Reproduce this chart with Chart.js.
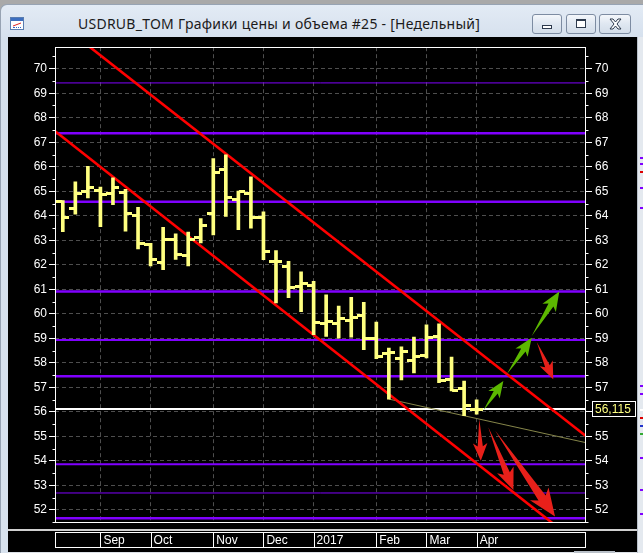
<!DOCTYPE html>
<html><head><meta charset="utf-8">
<script src="https://cdn.jsdelivr.net/npm/chart.js@4.4.1/dist/chart.umd.min.js"></script>
<style>
html,body{margin:0;padding:0;width:643px;height:553px;overflow:hidden;background:#a9a9a9;position:relative;}
#frame{position:absolute;left:0;top:4px;width:660px;height:560px;box-sizing:border-box;background:linear-gradient(#e3ebf5,#d5e0ed 34px,#d8e2ee);border-top:1px solid #97a3b3;border-left:1px solid #97a3b3;border-top-left-radius:7px;}
#icon{position:absolute;left:10px;top:17px;width:14px;height:13px;background:#fff;border:1px solid #5a7db0;box-sizing:border-box;}
#icon .bar{position:absolute;left:0;top:0;width:12px;height:3px;background:#3d6fc0;}
#icon .ln{position:absolute;left:2px;top:6px;width:8px;height:1px;background:#d22;transform:skewY(-20deg);}
#icon .b2{position:absolute;left:2px;top:9px;width:8px;height:1px;border-top:1px dotted #36c;}
#title{position:absolute;left:78px;top:14px;line-height:22px;font:14px 'Noto Sans',sans-serif;letter-spacing:0.25px;color:#1b1b1b;white-space:nowrap;}
.btn{position:absolute;top:14px;height:20px;box-sizing:border-box;border:1px solid #7d8ca2;border-radius:3px;background:linear-gradient(#f4f7fb,#dfe7f1 50%,#d3dde9);}
.btn .ico{position:absolute;box-sizing:border-box;}
#chartwrap{position:absolute;left:8px;top:37px;width:629px;height:515px;background:#000;}
#rstrip{position:absolute;left:637px;top:37px;width:6px;height:516px;background:#e4e9ef;border-left:1px solid #b8c0ca;box-sizing:border-box;}
.mk{position:absolute;left:2px;width:4px;height:2px;}
#bottom{position:absolute;left:8px;top:552px;width:629px;height:1px;background:#dde2e8;}
#thumb{position:absolute;left:574px;top:551px;width:41px;height:2px;background:#b9c0c8;}
</style></head>
<body>
<div id="frame"></div>
<div id="icon"><div class="bar"></div><div class="ln"></div><div class="b2"></div></div>
<div id="title">USDRUB_TOM Графики цены и объема #25 - [Недельный]</div>
<div class="btn" style="left:532px;width:30px;"><div class="ico" style="left:9px;top:10px;width:10px;height:4px;border:1px solid #2d3a4d;background:#fff;"></div></div>
<div class="btn" style="left:566px;width:30px;"><div class="ico" style="left:9px;top:4px;width:10px;height:9px;border:1px solid #2d3a4d;border-top-width:2px;background:#fff;"></div></div>
<div class="btn" style="left:599px;width:32px;"><svg class="ico" style="left:9px;top:3px;" width="13" height="12" viewBox="0 0 13 12"><path d="M1 1 L4 1 L6.5 4 L9 1 L12 1 L8 6 L12 11 L9 11 L6.5 8 L4 11 L1 11 L5 6 Z" fill="#fff" stroke="#2d3a4d" stroke-width="1"/></svg></div>
<div id="chartwrap"><canvas id="c" width="629" height="515"></canvas></div>
<div id="rstrip">
  <div class="mk" style="top:120px;background:#8000ff"></div>
  <div class="mk" style="top:126px;background:#8000ff"></div>
  <div class="mk" style="top:134px;background:#d00"></div>
  <div class="mk" style="top:150px;background:#8000ff"></div>
  <div class="mk" style="top:170px;background:#8000ff"></div>
  <div class="mk" style="top:348px;background:#8000ff"></div>
  <div class="mk" style="top:356px;background:#8000ff"></div>
  <div class="mk" style="top:372px;background:#fff"></div>
  <div class="mk" style="top:380px;background:#d00"></div>
  <div class="mk" style="top:388px;background:#23c"></div>
  <div class="mk" style="top:396px;background:#3a3"></div>
  <div class="mk" style="top:420px;background:#8000ff"></div>
  <div class="mk" style="top:452px;background:#8000ff"></div>
  <div class="mk" style="top:476px;background:#8000ff"></div>
</div>
<div id="bottom"></div>
<div id="thumb"></div>
<script>
// ---------------- data ----------------
const weeks = ['2016-08-15','2016-08-22','2016-08-29','2016-09-05','2016-09-12','2016-09-19','2016-09-26',
  '2016-10-03','2016-10-10','2016-10-17','2016-10-24','2016-10-31','2016-11-07','2016-11-14','2016-11-21',
  '2016-11-28','2016-12-05','2016-12-12','2016-12-19','2016-12-26','2017-01-02','2017-01-09','2017-01-16',
  '2017-01-23','2017-01-30','2017-02-06','2017-02-13','2017-02-20','2017-02-27','2017-03-06','2017-03-13',
  '2017-03-20','2017-03-27','2017-04-03'];
const opens  = [64.57,64.30,65.01,65.04,64.92,64.94,64.03,62.83,62.11,63.03,62.38,63.11,64.09,65.89,64.65,64.90,63.92,62.15,61.95,61.12,61.17,59.62,59.62,59.71,59.93,59.01,58.40,58.17,58.09,58.31,59.08,57.33,56.96,56.08];
const highs  = [64.62,65.38,66.02,65.17,65.55,65.08,64.34,62.88,63.53,63.26,63.33,63.89,66.33,66.49,65.01,65.59,64.16,62.58,62.14,61.71,61.33,60.77,60.32,60.67,60.47,59.66,58.60,58.65,59.05,59.55,59.59,58.23,57.26,56.49];
const lows   = [63.35,64.07,64.73,63.56,64.45,63.37,62.65,61.95,61.80,62.22,61.95,62.89,63.22,63.97,63.43,63.49,62.21,60.44,60.66,60.09,59.15,59.08,59.01,59.05,58.54,58.17,56.52,57.30,57.59,58.20,57.19,56.85,55.84,55.91];
const closes = [63.92,64.90,65.17,64.87,65.15,64.09,62.85,62.22,63.03,62.41,63.03,63.61,65.75,64.74,64.98,63.92,62.55,62.15,61.06,61.25,59.64,59.68,59.82,59.86,59.01,58.24,58.42,58.47,58.27,59.04,57.26,56.89,56.25,56.115];
const monthTicks  = [3,7,12,16,20,25,29,33];
const monthLabels = ['Sep','Oct','Nov','Dec','2017','Feb','Mar','Apr'];
const yTicks = [52,53,54,55,56,57,58,59,60,61,62,63,64,65,66,67,68,69,70];
const levels = [69.42,67.37,64.57,60.91,58.93,57.45,53.86,52.69,51.66];
const lastPrice = 56.115;
const lastPriceLabel = '56,115';
const channelUpper = [[-1,72.15],[42,54.90]];
const channelLower = [[-1,67.61],[42,50.27]];
const trendLine    = [[26,56.52],[42,54.71]];
const arrowsUp   = [[33.53,56.05,35.13,57.26],[35.40,57.53,37.39,59.02],[37.39,59.09,39.59,60.91]];
const arrowsDown = [[37.79,58.85,39.11,57.33],[33.21,55.71,33.33,54.00],[33.93,55.37,35.93,52.81],[34.47,55.24,39.25,51.73]];

// ---------------- styles ----------------
const X_MIN = -0.622, X_MAX = 41.72, Y_MIN = 51.465, Y_MAX = 70.878;
const BAR = '#ffff80', PURPLE = '#8000ff';
const levelWidths = [1,2.5,2.5,2.5,2,2.5,2,1,2.5];
const AXFONT = {family:"'Liberation Sans Narrow','Arial Narrow','Liberation Sans',sans-serif", size:12};

function tickImage(side){
  const c = document.createElement('canvas');
  c.width = 13; c.height = 3;
  const g = c.getContext('2d');
  g.fillStyle = BAR;
  if (side === 'left') g.fillRect(0,0,6,3); else g.fillRect(7,0,6,3);
  return c;
}
const pts = arr => arr.map(p => ({x:p[0], y:p[1]}));
const lineDs = (data, color, width, order) => ({type:'line', data, borderColor:color, borderWidth:width,
  pointRadius:0, tension:0, clip:0, order, fill:false});

const datasets = [];
datasets.push({type:'scatter', data: weeks.map((w,i)=>({x:i,y:opens[i]})), pointStyle: tickImage('left'), pointRadius:3, order:0});
datasets.push({type:'scatter', data: weeks.map((w,i)=>({x:i,y:closes[i]})), pointStyle: tickImage('right'), pointRadius:3, order:0});
datasets.push({type:'bar', data: weeks.map((w,i)=>({x:i,y:[lows[i],highs[i]]})), backgroundColor:BAR, borderWidth:0,
  barThickness:3, grouped:false, order:1});
datasets.push(lineDs(pts(channelUpper), '#ff0000', 2.6, 2));
datasets.push(lineDs(pts(channelLower), '#ff0000', 2.6, 2));
datasets.push(lineDs(pts(trendLine), '#86864a', 1, 3));
datasets.push(lineDs([{x:X_MIN-1,y:lastPrice},{x:X_MAX+1,y:lastPrice}], '#ffffff', 2, 4));
levels.forEach((v,k)=>datasets.push(lineDs([{x:X_MIN-1,y:v},{x:X_MAX+1,y:v}], PURPLE, levelWidths[k], 5)));

function drawArrow(ctx, x0, y0, x1, y1, color){
  const dx = x1-x0, dy = y1-y0, L = Math.hypot(dx,dy);
  const ux = dx/L, uy = dy/L, nx = -uy, ny = ux;
  const hl = Math.min(23, 9 + 0.13*L), hw = hl*0.5, sw = 1.4 + 0.028*L, notch = hl*0.22;
  const bx = x1 - ux*hl, by = y1 - uy*hl;
  ctx.save();
  ctx.fillStyle = color;
  ctx.beginPath();
  ctx.moveTo(x0, y0);
  ctx.lineTo(bx + nx*sw, by + ny*sw);
  ctx.lineTo(bx - ux*notch + nx*hw, by - uy*notch + ny*hw);
  ctx.lineTo(x1, y1);
  ctx.lineTo(bx - ux*notch - nx*hw, by - uy*notch - ny*hw);
  ctx.lineTo(bx - nx*sw, by - ny*sw);
  ctx.closePath();
  ctx.fill();
  ctx.restore();
}

const decor = {
  id:'decor',
  afterDatasetsDraw(chart){
    const {ctx, scales:{x, y}} = chart;
    const go = (a, col) => drawArrow(ctx, x.getPixelForValue(a[0]), y.getPixelForValue(a[1]),
                                         x.getPixelForValue(a[2]), y.getPixelForValue(a[3]), col);
    arrowsUp.forEach(a => go(a, '#5cb800'));
    arrowsDown.forEach(a => go(a, '#e8201a'));
  },
  afterDraw(chart){
    const {ctx, chartArea:ca, scales:{x, y, y2}} = chart;
    ctx.save();
    // plot frame
    ctx.strokeStyle = '#ffffff'; ctx.lineWidth = 1;
    const L = Math.round(ca.left)+0.5, R = Math.round(ca.right)-0.5, T = Math.round(ca.top)+0.5, B = Math.round(ca.bottom)-0.5;
    ctx.strokeRect(L, T, R-L, B-T);
    // minor ticks at half values
    ctx.beginPath();
    for (let k=0;k<yTicks.length+1;k++){
      const v = yTicks[0] - 0.5 + k;
      const py = Math.round(y.getPixelForValue(v))+0.5;
      if (py < ca.top || py > ca.bottom) continue;
      ctx.moveTo(L-3, py); ctx.lineTo(L, py);
      ctx.moveTo(R, py); ctx.lineTo(R+3, py);
    }
    ctx.stroke();
    // last price box
    const py = y2.getPixelForValue(lastPrice);
    const bx = Math.round(ca.right)+6;
    ctx.fillStyle = '#000';
    ctx.fillRect(bx, Math.round(py)-8, 44, 16);
    ctx.strokeStyle = '#fff';
    ctx.strokeRect(bx+0.5, Math.round(py)-7.5, 43, 15);
    ctx.fillStyle = BAR;
    ctx.font = "12px 'Liberation Sans',sans-serif";
    ctx.textBaseline = 'middle'; ctx.textAlign = 'left';
    ctx.fillText(lastPriceLabel, bx+3, py+0.5);
    // time axis panel
    const top = x.top;
    ctx.fillStyle = '#d0d0d0';
    ctx.fillRect(0, top+6, chart.width, 2);
    ctx.strokeStyle = '#ffffff';
    ctx.strokeRect(L, top+9.5, R-L, 15);
    ctx.beginPath();
    monthTicks.forEach(v => {
      const px = Math.round(x.getPixelForValue(v))+0.5;
      ctx.moveTo(px, top+10); ctx.lineTo(px, top+24);
    });
    ctx.stroke();
    ctx.restore();
  }
};

new Chart(document.getElementById('c'), {
  type:'bar',
  data:{datasets},
  options:{
    responsive:false, animation:false, events:[], devicePixelRatio:1,
    layout:{padding:{top:6.3,left:0,right:0,bottom:0}},
    plugins:{legend:{display:false}, tooltip:{enabled:false}},
    scales:{
      x:{type:'linear', min:X_MIN, max:X_MAX, offset:false,
        afterBuildTicks: s => { s.ticks = monthTicks.map(v=>({value:v})); },
        afterFit: s => { s.height = 29; },
        grid:{offset:false, color:'#4e4e4e', lineWidth:1, drawTicks:false},
        border:{display:false, dash:[4,3]},
        ticks:{color:'#ffffff', font:AXFONT, align:'start', labelOffset:3, padding:10, maxRotation:0, autoSkip:false,
          callback:(v,i)=>monthLabels[i]}
      },
      y:{type:'linear', position:'left', min:Y_MIN, max:Y_MAX,
        afterBuildTicks: s => { s.ticks = yTicks.map(v=>({value:v})); },
        afterFit: s => { s.width = 47; },
        grid:{color:'#4e4e4e', lineWidth:1, drawTicks:true, tickLength:6, tickColor:'#ffffff', tickWidth:1},
        border:{display:false, dash:[4,3]},
        ticks:{color:'#ffffff', font:AXFONT, padding:2, autoSkip:false}
      },
      y2:{type:'linear', position:'right', min:Y_MIN, max:Y_MAX,
        afterBuildTicks: s => { s.ticks = yTicks.map(v=>({value:v})); },
        afterFit: s => { s.width = 51; },
        grid:{drawOnChartArea:false, drawTicks:true, tickLength:6, tickColor:'#ffffff', tickWidth:1},
        border:{display:false},
        ticks:{color:'#ffffff', font:AXFONT, padding:3, autoSkip:false}
      }
    }
  },
  plugins:[decor]
});
</script>
</body></html>
